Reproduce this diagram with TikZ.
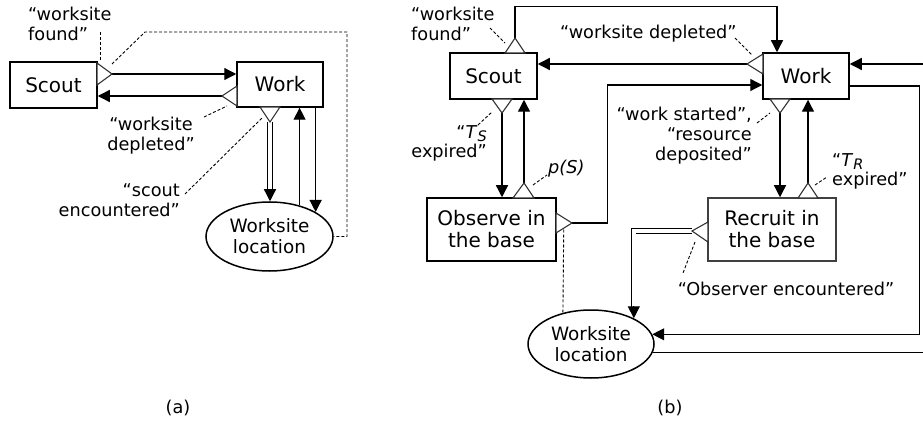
\documentclass[tikz,border=0pt]{standalone}
\usepackage{fontspec}
\setmainfont{DejaVu Sans}
\usetikzlibrary{arrows.meta,calc,shapes.geometric}
\tikzset{
  box/.style={draw, line width=1.5pt, rectangle, inner sep=0pt, align=center, font=\fontsize{20}{22}\selectfont},
  site/.style={draw, line width=1.5pt, ellipse, inner sep=0pt, align=center, font=\fontsize{18.4}{21}\selectfont},
  lbl/.style={inner sep=0pt, font=\fontsize{17.7}{20}\selectfont},
  arr/.style={line width=1.3pt, -{Triangle[length=12pt,width=12pt]}},
  con/.style={line width=1.3pt},
  tri/.style={line width=1.1pt, draw=black!80, fill=white, line join=miter},
  lead/.style={line width=0.9pt, dash pattern=on 3pt off 2pt},
  dbl/.style={double, double distance=3.5pt, line width=0.9pt, line join=miter},
}
\newcommand\tsub[2]{\textit{#1}\raisebox{-0.22em}{\fontsize{14.5}{14.5}\selectfont\textit{#2}}}
\begin{document}
\begin{tikzpicture}[x=1pt,y=-1pt]
\clip (0,0) rectangle (923,422);
% ---------------- panel (a) ----------------
\node[box, minimum width=87pt, minimum height=46pt] (scoutA) at (53.5,85) {Scout};
\node[box, minimum width=86pt, minimum height=45pt] (workA) at (280,84.5) {Work};
\node[site, minimum width=127pt, minimum height=69pt] (siteA) at (269.5,236.5) {Worksite\\location};
\coordinate (tA1) at (112,74);
\coordinate (tA2) at (222,96);
\coordinate (tA3) at (270,122);
\draw[arr] (tA1) -- (tA1 -| workA.west);
\draw[arr] (tA2) -- (tA2 -| scoutA.east);
\draw[dbl] (tA3) -- ($(tA3 |- siteA.north)+(0,-9)$);
\draw[arr] ($(tA3 |- siteA.north)+(0,-12)$) -- (tA3 |- siteA.north);
\draw[arr] (siteA.46) -- (siteA.46 |- workA.south);
\draw[arr] (workA.south -| siteA.28) -- (siteA.28);
\draw[tri] (97,63) -- (tA1) -- (97,85) -- cycle;
\draw[tri] (237,86) -- (tA2) -- (237,106) -- cycle;
\draw[tri] (260,107) -- (tA3) -- (280,107) -- cycle;
\coordinate (dA) at (112,64);
\draw[lead] (dA) -- (145,32) -- (347,32) |- (siteA.east);
\draw[lead] (100,32) -- (100,60);
\draw[lead] (204,117) -- (227,106);
\draw[lead] (185,194) -- (263,117);
\node[lbl, anchor=north west, align=left] (wfA) at (28,6.5) {“worksite\\found”};
\node[lbl, anchor=north, align=center] (wdA) at (151,116.5) {“worksite\\depleted”};
\node[lbl, anchor=north east, align=right] (seA) at (180,183.5) {“scout\\encountered”};
\node[lbl, anchor=north] (capA) at (178,399.5) {(a)};
% ---------------- panel (b) ----------------
\node[box, minimum width=87pt, minimum height=46pt] (scoutB) at (493.5,76) {Scout};
\node[box, minimum width=86pt, minimum height=46pt] (workB) at (806,76) {Work};
\node[box, minimum width=129pt, minimum height=63pt] (obsB) at (491.5,229.5) {Observe in\\the base};
\node[box, draw=black!75, minimum width=128pt, minimum height=63pt] (recB) at (772,229.5) {Recruit in\\the base};
\node[site, minimum width=126pt, minimum height=68pt] (siteB) at (591,344) {Worksite\\location};
\coordinate (tB1) at (515,38);
\coordinate (tB2) at (747,64);
\coordinate (tB3) at (502,113);
\coordinate (tB4) at (524,183);
\coordinate (tB5) at (780,113);
\coordinate (tB6) at (808,183);
\coordinate (tB7) at (572,223);
\coordinate (tB8) at (692,231);
\coordinate (wIn) at ($(workB.west)+(0,9)$);
\draw[arr] (tB1) |- ($(workB.north)+(-29,-46)$) -- ($(workB.north)+(-29,0)$);
\draw[arr] (tB2) -- (tB2 -| scoutB.east);
\draw[arr] (tB3) -- (tB3 |- obsB.north);
\draw[arr] (tB4) -- (tB4 |- scoutB.south);
\draw[arr] (tB7) -| ($(wIn)+(-155,0)$) -- (wIn);
\draw[arr] (tB5) -- (tB5 |- recB.north);
\draw[arr] (tB6) -- (tB6 |- workB.south);
\draw[arr] ($(workB.east)+(0,10)$) -| ($(siteB.9)+(267,0)$) -- (siteB.9);
\draw[arr] (siteB.-8) -| ($(workB.east)+(90,-12)$) -- ($(workB.east)+(0,-12)$);
\draw[dbl] (tB8) -| ($(siteB.31)+(0,-10)$);
\draw[arr] ($(siteB.31)+(0,-12)$) -- (siteB.31);
\draw[tri] (505,53) -- (tB1) -- (525,53) -- cycle;
\draw[tri] (763,54) -- (tB2) -- (763,74) -- cycle;
\draw[tri] (492,99) -- (tB3) -- (512,99) -- cycle;
\draw[tri] (513,198) -- (tB4) -- (534,198) -- cycle;
\draw[tri] (770,99) -- (tB5) -- (790,99) -- cycle;
\draw[tri] (798,198) -- (tB6) -- (818,198) -- cycle;
\draw[tri] (556,213) -- (tB7) -- (556,233) -- cycle;
\draw[tri] (708,222) -- (tB8) -- (708,242) -- cycle;
\draw[lead] ($(obsB.east)+(7,0)$) -- (siteB.132);
\draw[lead] (490,28) -- (505,43);
\draw[lead] (735,38) -- (752,55);
\draw[lead] (478,125) -- (492,112);
\draw[lead] (533,185) -- (547,175);
\draw[lead] (757,123) -- (770,113);
\draw[lead] (815,185) -- (827,177);
\draw[lead] (695,242) -- (683,273);
\node[lbl, anchor=north west, align=left] (wfB) at (411,6.5) {“worksite\\found”};
\node[lbl, anchor=north west] (wdB) at (560,24.5) {“worksite depleted”};
\node[lbl, anchor=north east, align=right, font=\fontsize{17.7}{19.5}\selectfont] (tsB) at (487,125) {“\tsub{T}{S}\\expired”};
\node[lbl, anchor=north west] (psB) at (548,159.5) {\textit{p(S)}};
\node[lbl, anchor=north east, align=right] (wsB) at (752,106.5) {“work started”,\\“resource\\deposited”};
\node[lbl, anchor=north west, align=left, font=\fontsize{17.7}{19.5}\selectfont] (trB) at (832,153) {“\tsub{T}{R}\\expired”};
\node[lbl, anchor=north] (oeB) at (786,281.5) {“Observer encountered”};
\node[lbl, anchor=north] (capB) at (670,399.5) {(b)};
\end{tikzpicture}
\end{document}
